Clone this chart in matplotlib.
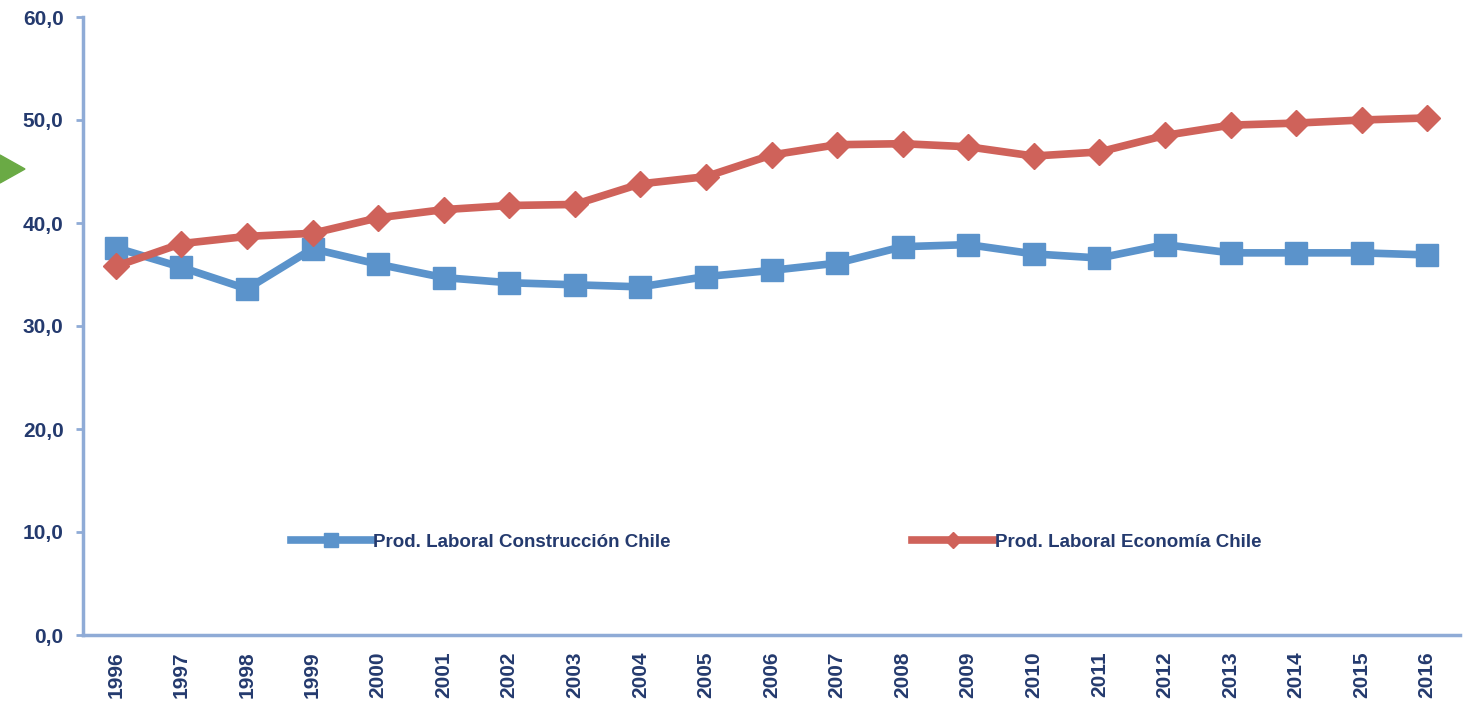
import matplotlib
matplotlib.use("Agg")
import matplotlib.pyplot as plt
from matplotlib.patches import Polygon

years = list(range(1996, 2017))
construccion = [37.6, 35.7, 33.6, 37.5, 36.0, 34.7, 34.2, 34.0, 33.8, 34.8, 35.4,
                36.1, 37.7, 37.9, 37.0, 36.6, 37.9, 37.1, 37.1, 37.1, 36.9]
economia = [35.8, 38.0, 38.7, 39.0, 40.5, 41.3, 41.7, 41.8, 43.8, 44.5, 46.6,
            47.6, 47.7, 47.4, 46.5, 46.9, 48.5, 49.5, 49.7, 50.0, 50.2]
labels = ["Prod. Laboral Construcción Chile", "Prod. Laboral Economía Chile"]
yticks = [0, 10, 20, 30, 40, 50, 60]

blue = "#5b93cb"
red = "#cf625a"
spine = "#8fabd6"
txt = "#243a6e"

fig = plt.figure(figsize=(14.68, 7.10), dpi=100)
ax = fig.add_axes([83/1468, 75/710, (1460-83)/1468, (635-17)/710])

ax.plot(years, construccion, color=blue, lw=5.5, marker="s", markersize=16,
        label=labels[0], solid_joinstyle="round")
ax.plot(years, economia, color=red, lw=5.5, marker="D", markersize=13,
        label=labels[1], solid_joinstyle="round")

ax.set_xlim(1995.5, 2016.5)
ax.set_ylim(0, 60)
ax.set_yticks(yticks)
ax.set_yticklabels([f"{v:.1f}".replace(".", ",") for v in yticks],
                   fontfamily="Liberation Sans", fontsize=15, fontweight="bold", color=txt)
ax.set_xticks(years)
ax.set_xticklabels([str(y) for y in years], rotation=90,
                   fontfamily="Liberation Sans", fontsize=15, fontweight="bold", color=txt)
for side in ["top", "right"]:
    ax.spines[side].set_visible(False)
for side in ["left", "bottom"]:
    ax.spines[side].set_color(spine)
    ax.spines[side].set_linewidth(2.5)
ax.tick_params(axis="y", colors=spine, length=5, width=2, labelcolor=txt, pad=9)
ax.tick_params(axis="x", length=0, pad=12, labelcolor=txt)

leg = ax.legend(loc="center", ncol=2, frameon=False, handlelength=4.3,
                handletextpad=0.1, columnspacing=12.9, markerscale=0.6,
                prop={"family": "Liberation Sans", "weight": "bold", "size": 13.5})
leg.set_bbox_to_anchor((776/1468, 1 - 542/710), transform=fig.transFigure)
for t in leg.get_texts():
    t.set_color(txt)

tri = Polygon([[0, 1 - 155/710], [25/1468, 1 - 169/710], [0, 1 - 183/710]],
              closed=True, transform=fig.transFigure, color="#6aaa45", clip_on=False)
fig.patches.append(tri)

fig.savefig("out.png", dpi=100)
